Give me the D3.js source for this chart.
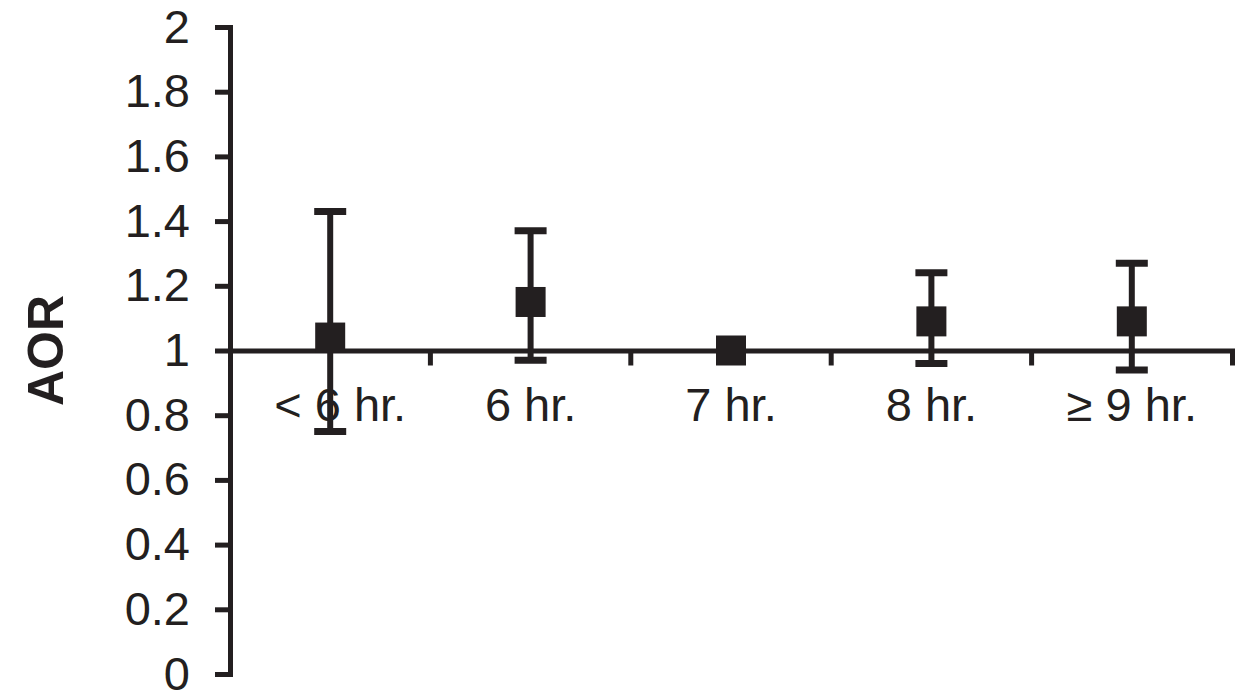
<!DOCTYPE html>
<html>
<head>
<meta charset="utf-8">
<script src="https://cdn.jsdelivr.net/npm/d3@7"></script>
<style>
  body { margin: 0; background: #fff; }
  svg text { font-family: Arial, "Liberation Sans", sans-serif; fill: #231f20; }
</style>
</head>
<body>
<svg id="chart"></svg>
<script>
const categories = ["< 6 hr.", "6 hr.", "7 hr.", "8 hr.", "≥ 9 hr."];
const aor = [1.04, 1.15, 1.00, 1.09, 1.09];
const lower = [0.75, 0.97, 1.00, 0.96, 0.94];
const upper = [1.43, 1.37, 1.00, 1.24, 1.27];
const yTicks = [0, 0.2, 0.4, 0.6, 0.8, 1, 1.2, 1.4, 1.6, 1.8, 2];

const ink = "#231f20";
const width = 1243, height = 698;

const data = categories.map((c, i) => ({ cat: c, aor: aor[i], lo: lower[i], hi: upper[i] }));

const svg = d3.select("#chart")
    .attr("width", width)
    .attr("height", height);

const yScale = d3.scaleLinear()
    .domain([0, 2])
    .range([674, 27]);

const xScale = d3.scaleBand()
    .domain(categories)
    .range([230, 1232]);

// y axis
const yAxis = svg.append("g")
    .attr("transform", "translate(230,0)")
    .call(d3.axisLeft(yScale)
        .tickValues(yTicks)
        .tickFormat(d3.format("~g"))
        .tickSizeInner(15)
        .tickSizeOuter(15)
        .tickPadding(25));
yAxis.select(".domain").attr("stroke", ink).attr("stroke-width", 5);
yAxis.selectAll(".tick line").attr("stroke", ink).attr("stroke-width", 5);
yAxis.selectAll(".tick text")
    .attr("font-size", 47)
    .attr("font-family", null);

// x axis crossing at AOR = 1
const xAxis = svg.append("g")
    .attr("transform", `translate(0,${yScale(1)})`)
    .call(d3.axisBottom(xScale)
        .tickSizeInner(0)
        .tickSizeOuter(15)
        .tickPadding(37));
xAxis.select(".domain").attr("stroke", ink).attr("stroke-width", 5);
xAxis.selectAll(".tick text")
    .attr("font-size", 47)
    .attr("font-family", null)
    .attr("dx", (d, i) => i === 0 ? 10 : 0);

// tick marks between categories
xAxis.selectAll(".sep")
    .data(categories.slice(0, -1))
    .enter()
    .append("line")
    .attr("class", "sep")
    .attr("x1", d => xScale(d) + xScale.bandwidth())
    .attr("x2", d => xScale(d) + xScale.bandwidth())
    .attr("y1", 0)
    .attr("y2", 15)
    .attr("stroke", ink)
    .attr("stroke-width", 5);

// error bars
const bars = svg.selectAll(".err")
    .data(data.filter(d => d.hi > d.lo))
    .enter()
    .append("g")
    .attr("class", "err")
    .attr("transform", d => `translate(${xScale(d.cat) + xScale.bandwidth() / 2},0)`);

bars.append("line")
    .attr("y1", d => yScale(d.lo))
    .attr("y2", d => yScale(d.hi))
    .attr("stroke", ink)
    .attr("stroke-width", 6);

bars.selectAll(".cap")
    .data(d => [d.lo, d.hi])
    .enter()
    .append("line")
    .attr("class", "cap")
    .attr("x1", -16)
    .attr("x2", 16)
    .attr("y1", d => yScale(d))
    .attr("y2", d => yScale(d))
    .attr("stroke", ink)
    .attr("stroke-width", 7);

// point estimates
const size = 30;
svg.selectAll(".pt")
    .data(data)
    .enter()
    .append("rect")
    .attr("class", "pt")
    .attr("x", d => xScale(d.cat) + xScale.bandwidth() / 2 - size / 2)
    .attr("y", d => yScale(d.aor) - size / 2)
    .attr("width", size)
    .attr("height", size)
    .attr("fill", ink);

// axis title
svg.append("text")
    .attr("transform", `translate(63,${yScale(1)}) rotate(-90)`)
    .attr("text-anchor", "middle")
    .attr("font-size", 50)
    .attr("font-weight", "bold")
    .text("AOR");
</script>
</body>
</html>
